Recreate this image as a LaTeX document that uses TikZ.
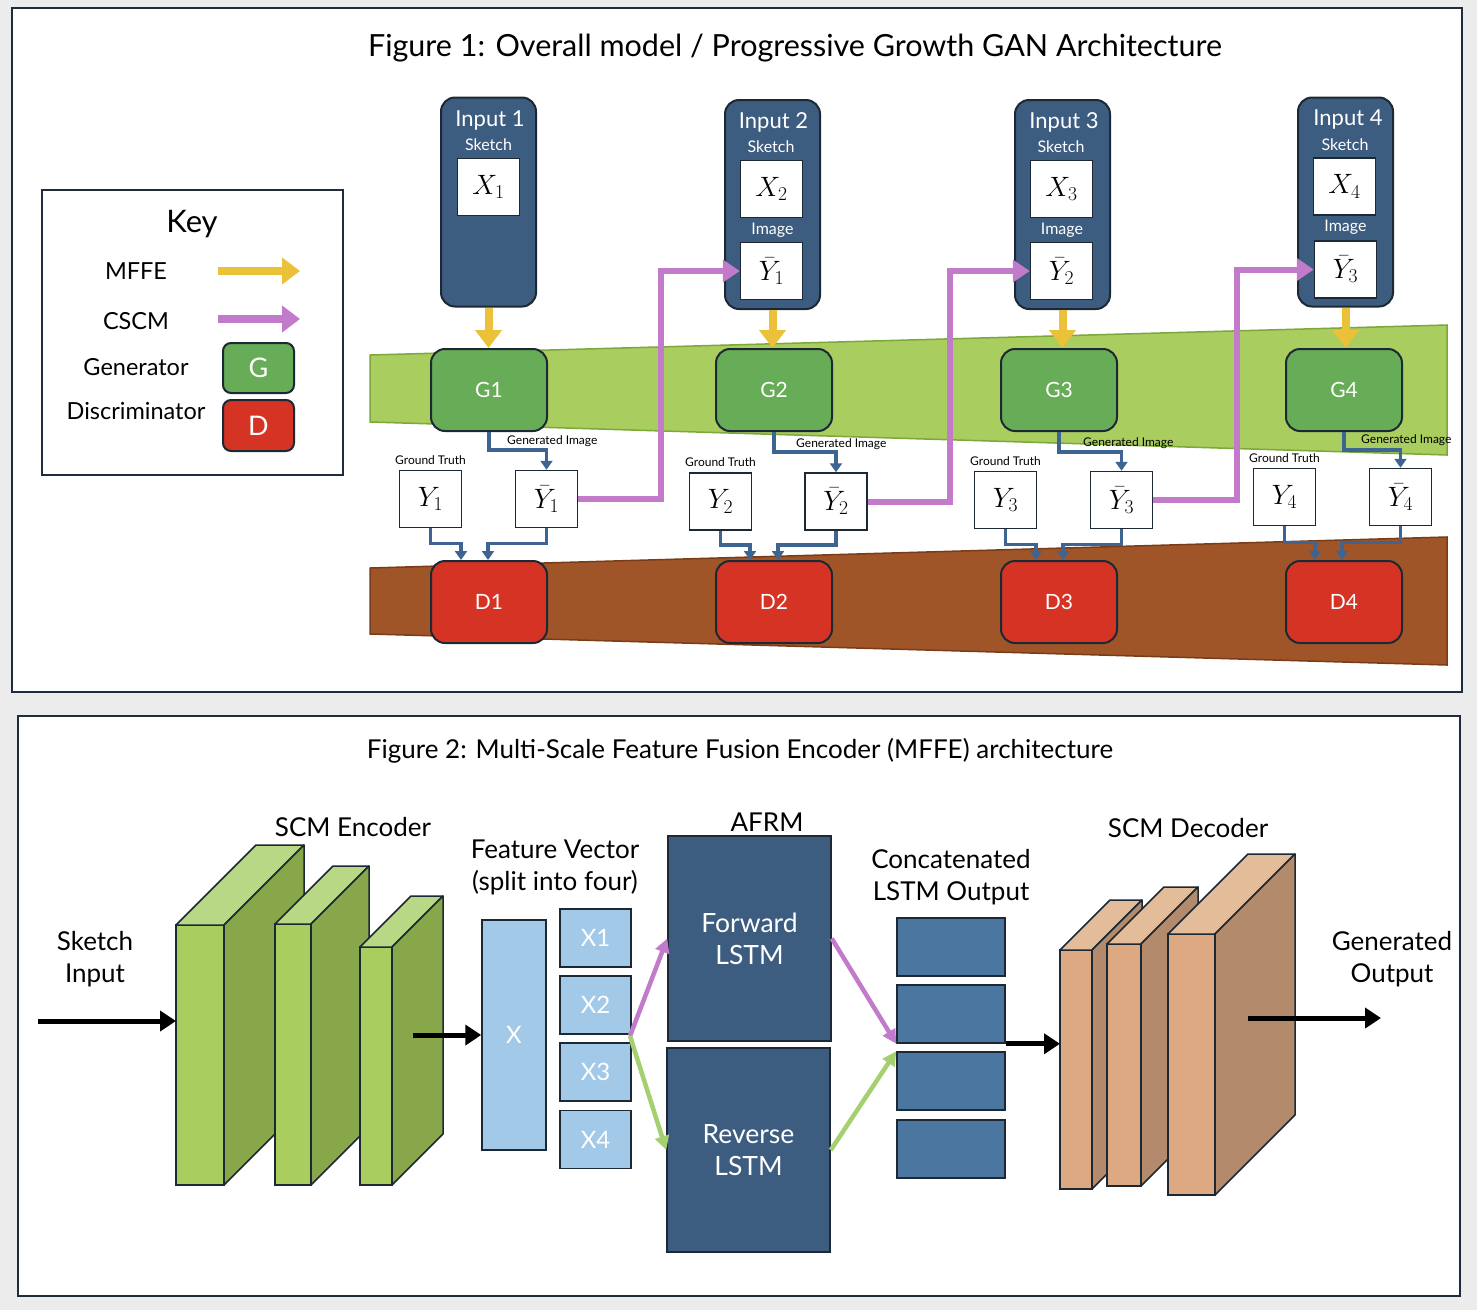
\RequirePackage{fix-cm}
\documentclass[tikz,border=0pt]{standalone}
\usepackage{fontspec}
\setmainfont{Lato}
\usetikzlibrary{arrows.meta,positioning}
\definecolor{pagegray}{RGB}{236,236,236}
\definecolor{panelline}{RGB}{30,44,60}
\definecolor{inputnavy}{RGB}{61,93,128}
\definecolor{boxline}{RGB}{28,40,52}
\definecolor{bandgreen}{RGB}{169,205,94}
\definecolor{bandgreenline}{RGB}{122,168,58}
\definecolor{gengreen}{RGB}{103,172,86}
\definecolor{discred}{RGB}{213,52,37}
\definecolor{bandbrown}{RGB}{160,85,40}
\definecolor{bandbrownline}{RGB}{120,60,25}
\definecolor{mffeyellow}{RGB}{236,193,58}
\definecolor{cscmpurple}{RGB}{194,123,203}
\definecolor{linkblue}{RGB}{62,101,146}
\definecolor{featblue}{RGB}{163,201,232}
\definecolor{catblue}{RGB}{74,118,160}
\definecolor{revgreen}{RGB}{165,208,112}
\definecolor{encfrontc}{RGB}{169,205,94}
\definecolor{enctopc}{RGB}{185,216,134}
\definecolor{encsidec}{RGB}{136,166,74}
\definecolor{decfrontc}{RGB}{220,169,130}
\definecolor{dectopc}{RGB}{227,188,154}
\definecolor{decsidec}{RGB}{179,139,108}
\newcommand{\fs}[2]{\fontsize{#1}{#2}\selectfont}
% front face as a node, top and side faces drawn on it
\newcommand{\slab}[7]{%
  \node[#2front, minimum width=#5pt, minimum height=#6pt] (#1) at (#3,#4) {};
  \filldraw[#2top] (#1.north west) -- ++(#7,-#7) -- ++(#5,0) -- (#1.north east) -- cycle;
  \filldraw[#2side] (#1.north east) -- ++(#7,-#7) -- ++(0,#6) -- (#1.south east) -- cycle;
}

\begin{document}
\begin{tikzpicture}[x=1pt, y=-1pt,
        panel/.style={draw=panelline, line width=2.5pt, fill=white},
        inputbox/.style={rectangle, rounded corners=14pt, draw=boxline, line width=2pt, fill=inputnavy,
          minimum width=95pt, minimum height=209pt},
        slot/.style={rectangle, draw=boxline, line width=1.5pt, fill=white, minimum width=62pt,
          minimum height=57pt, inner sep=0pt, font=\fs{28}{30}},
        inlabel/.style={text=white, inner sep=0pt, font=\fs{22}{26}},
        sublabel/.style={text=white, inner sep=0pt, font=\fs{16}{19}},
        gen/.style={rectangle, rounded corners=14pt, draw=boxline, line width=2pt, fill=gengreen,
          minimum width=116pt, minimum height=82pt, text=white, font=\fs{21}{25}},
        disc/.style={gen, fill=discred},
        smalllabel/.style={inner sep=0pt, font=\fs{12}{14}},
        keylabel/.style={inner sep=0pt, font=\fs{23.5}{27}},
        lbl/.style={align=center, inner sep=0pt, font=\fs{26}{32}},
        mffe/.style={mffeyellow, line width=8pt, -{Triangle[length=18pt,width=26pt]}},
        cscm/.style={cscmpurple, line width=6pt, -{Triangle[length=17pt,width=22pt]}},
        keycscm/.style={cscmpurple, line width=8pt, -{Triangle[length=18pt,width=26pt]}},
        link/.style={linkblue, line width=3.5pt, -{Triangle[length=9pt,width=12pt]}},
        flow/.style={black, line width=5pt, -{Triangle[length=16pt,width=20pt]}},
        fwdarrow/.style={cscmpurple, line width=4.5pt, -{Triangle[length=14pt,width=14pt]}},
        revarrow/.style={revgreen, line width=4.5pt, -{Triangle[length=14pt,width=14pt]}},
        feat/.style={rectangle, draw=boxline, line width=1.5pt, fill=featblue, text=white,
          minimum width=71pt, minimum height=58pt, font=\fs{24}{28}},
        lstm/.style={rectangle, draw=boxline, line width=1.5pt, fill=inputnavy, text=white,
          minimum width=163pt, minimum height=205pt, align=center, font=\fs{26.5}{32}},
        cat/.style={rectangle, draw=boxline, line width=1.5pt, fill=catblue,
          minimum width=108pt, minimum height=58pt},
        encfront/.style={draw=boxline, line width=1.5pt, fill=encfrontc, inner sep=0pt, outer sep=0pt},
        enctop/.style={draw=boxline, line width=1.5pt, fill=enctopc, line join=round},
        encside/.style={draw=boxline, line width=1.5pt, fill=encsidec, line join=round},
        decfront/.style={draw=boxline, line width=1.5pt, fill=decfrontc, inner sep=0pt, outer sep=0pt},
        dectop/.style={draw=boxline, line width=1.5pt, fill=dectopc, line join=round},
        decside/.style={draw=boxline, line width=1.5pt, fill=decsidec, line join=round}]
  \useasboundingbox (0,0) rectangle (1477,1310);
  \fill[pagegray] (0,0) rectangle (1477,1310);
  \draw[panel] (12,8) rectangle (1462,692);
  \draw[panel] (18,716) rectangle (1460,1296);

  % Figure 1
  \node[font=\fs{30.5}{36}] (fig1title) at (795,48) {Figure 1: Overall model / Progressive Growth GAN Architecture};

  % key
  \node[draw=panelline, line width=2pt, fill=white, minimum width=301pt, minimum height=285pt] (key) at (192.5,332.5) {};
  \node[font=\fs{31}{36}] (keytitle) at (192,224) {Key};
  \node[keylabel] (kmffe) at (136,271) {MFFE};
  \node[keylabel] (kcscm) at (136,321) {CSCM};
  \node[keylabel] (kgen) at (136,367) {Generator};
  \node[keylabel] (kdisc) at (136,411) {Discriminator};
  \coordinate (kma) at (218,271);
  \coordinate (kmb) at (300,271);
  \coordinate (kca) at (218,319);
  \coordinate (kcb) at (300,319);
  \draw[mffe] (kma) -- (kmb);
  \draw[keycscm] (kca) -- (kcb);
  \node[gen, minimum width=71pt, minimum height=50pt, rounded corners=8pt, font=\fs{27}{30}] (kg) at (258.5,368) {G};
  \node[disc, minimum width=71pt, minimum height=51pt, rounded corners=8pt, font=\fs{27}{30}] (kd) at (258.5,425.5) {D};

  % bands
  \filldraw[fill=bandgreen, draw=bandgreenline, line width=1.5pt] (370,355) -- (1447,325) -- (1447,455) -- (370,422) -- cycle;
  \filldraw[fill=bandbrown, draw=bandbrownline, line width=1.5pt] (370,568) -- (1447,537) -- (1447,665) -- (370,634) -- cycle;

  % inputs
  \node[inputbox] (in1) at (488.5,202) {};
  \node[inlabel] (in1t) at (490,120) {Input 1};
  \node[sublabel] (in1s) at (488.5,145) {Sketch};
  \node[slot] (x1) at (488.5,187) {$X_1$};

  \node[inputbox] (in2) at (772.5,204.5) {};
  \node[inlabel] (in2t) at (773.5,122) {Input 2};
  \node[sublabel] (in2s) at (771,147) {Sketch};
  \node[slot] (x2) at (771.5,189) {$X_2$};
  \node[sublabel] (in2i) at (772.5,230) {Image};
  \node[slot] (yt1) at (771.5,271) {$\bar{Y}_1$};

  \node[inputbox] (in3) at (1062.5,204.5) {};
  \node[inlabel] (in3t) at (1064,122) {Input 3};
  \node[sublabel] (in3s) at (1061,147) {Sketch};
  \node[slot] (x3) at (1061.5,189) {$X_3$};
  \node[sublabel] (in3i) at (1062,230) {Image};
  \node[slot] (yt2) at (1061.5,271) {$\bar{Y}_2$};

  \node[inputbox] (in4) at (1345.5,202) {};
  \node[inlabel] (in4t) at (1348,119) {Input 4};
  \node[sublabel] (in4s) at (1345,145) {Sketch};
  \node[slot] (x4) at (1344.5,186.5) {$X_4$};
  \node[sublabel] (in4i) at (1345.5,227) {Image};
  \node[slot] (yt3) at (1345.5,269.5) {$\bar{Y}_3$};

  % generators and discriminators
  \node[gen] (g1) at (489,390) {G1};
  \node[gen] (g2) at (774,390) {G2};
  \node[gen] (g3) at (1059,390) {G3};
  \node[gen] (g4) at (1344,390) {G4};
  \node[disc] (d1) at (489,602) {D1};
  \node[disc] (d2) at (774,602) {D2};
  \node[disc] (d3) at (1059,602) {D3};
  \node[disc] (d4) at (1344,602) {D4};

  % ground truth / generated
  \node[slot] (y1) at (430.5,499) {$Y_1$};
  \node[slot] (yb1) at (546.5,499) {$\bar{Y}_1$};
  \node[slot] (y2) at (720.5,501.5) {$Y_2$};
  \node[slot] (yb2) at (836,501.5) {$\bar{Y}_2$};
  \node[slot] (y3) at (1005.5,500) {$Y_3$};
  \node[slot] (yb3) at (1121.5,500) {$\bar{Y}_3$};
  \node[slot] (y4) at (1284.5,497) {$Y_4$};
  \node[slot] (yb4) at (1400.5,497) {$\bar{Y}_4$};
  \node[smalllabel, above=5pt of y1] (gt1) {Ground Truth};
  \node[smalllabel, above=5pt of y2] (gt2) {Ground Truth};
  \node[smalllabel, above=5pt of y3] (gt3) {Ground Truth};
  \node[smalllabel, above=5pt of y4] (gt4) {Ground Truth};
  \node[smalllabel, anchor=west] (gi1) at (507,441) {Generated Image};
  \node[smalllabel, anchor=west] (gi2) at (796,444) {Generated Image};
  \node[smalllabel, anchor=west] (gi3) at (1083,443) {Generated Image};
  \node[smalllabel, anchor=west] (gi4) at (1361,440) {Generated Image};

  % MFFE arrows
  \draw[mffe] (in1.south) -- (in1.south |- g1.north);
  \draw[mffe] (in2.south) -- (in2.south |- g2.north);
  \draw[mffe] (in3.south) -- (in3.south |- g3.north);
  \draw[mffe] (in4.south) -- (in4.south |- g4.north);

  % generated image links
  \draw[link] (g1.south) -- ++(0,18) -| (yb1.north);
  \draw[link] (g2.south) -- ++(0,20) -| (yb2.north);
  \draw[link] (g3.south) -- ++(0,20) -| (yb3.north);
  \draw[link] (g4.south) -- ++(0,18) -| (yb4.north);

  % into discriminators
  \draw[link] (y1.south) -- ++(0,15) -| ([xshift=-28pt]d1.north);
  \draw[link] (yb1.south) -- ++(0,15) -| ([xshift=-1pt]d1.north);
  \draw[link] (y2.south) -- ++(0,14) -| ([xshift=-24pt]d2.north);
  \draw[link] (yb2.south) -- ++(0,14) -| ([xshift=4pt]d2.north);
  \draw[link] (y3.south) -- ++(0,15) -| ([xshift=-23pt]d3.north);
  \draw[link] (yb3.south) -- ++(0,15) -| ([xshift=4pt]d3.north);
  \draw[link] (y4.south) -- ++(0,16) -| ([xshift=-29pt]d4.north);
  \draw[link] (yb4.south) -- ++(0,16) -| ([xshift=-2pt]d4.north);

  % CSCM arrows
  \draw[cscm] (yb1.east) -- ++(83,0) |- (yt1.west);
  \draw[cscm] (yb2.east) -- ++(82,0) |- (yt2.west);
  \draw[cscm] (yb3.east) -- ++(84,0) |- (yt3.west);

  % Figure 2
  \node[font=\fs{26}{30}] (fig2title) at (740,751) {Figure 2: Multi-Scale Feature Fusion Encoder (MFFE) architecture};

  \node[lbl] (sketch) at (95,959) {Sketch\\Input};
  \node[lbl] (enclbl) at (353,827) {SCM Encoder};
  \node[lbl] (featlbl) at (555,867) {Feature Vector\\(split into four)};
  \node[lbl] (afrm) at (767,822) {AFRM};
  \node[lbl] (catlbl) at (951,877) {Concatenated\\LSTM Output};
  \node[lbl] (declbl) at (1188,828) {SCM Decoder};
  \node[lbl] (genout) at (1392,959) {Generated\\Output};

  % encoder
  \slab{enc1}{enc}{200}{1055}{48}{260}{80}
  \slab{enc2}{enc}{293}{1054.5}{36}{261}{58}
  \slab{enc3}{enc}{376}{1066}{32}{238}{51}

  % feature vector
  \node[feat, minimum width=64pt, minimum height=230pt] (xvec) at (514,1035) {X};
  \node[feat] (f1) at (595.5,938) {X1};
  \node[feat] (f2) at (595.5,1005) {X2};
  \node[feat] (f3) at (595.5,1072) {X3};
  \node[feat] (f4) at (595.5,1139.5) {X4};

  % AFRM
  \node[lstm] (fwd) at (749.5,938.5) {Forward\\LSTM};
  \node[lstm, minimum height=204pt] (rev) at (748.5,1150) {Reverse\\LSTM};

  % concatenated output
  \node[cat] (c1) at (951,947) {};
  \node[cat] (c2) at (951,1014) {};
  \node[cat] (c3) at (951,1081) {};
  \node[cat] (c4) at (951,1149) {};

  % decoder
  \slab{dec1}{dec}{1076}{1069.5}{32}{239}{50}
  \slab{dec2}{dec}{1124}{1065}{34}{242}{57}
  \slab{dec3}{dec}{1191.5}{1064.5}{47}{261}{80}

  % connectors
  \coordinate (sketchin) at (38,1021);
  \coordinate (encout) at (413,1035);
  \coordinate (split) at (630,1036);
  \coordinate (decout) at (1248,1018);
  \coordinate (outend) at (1381,1018);
  \draw[flow] (sketchin) -- (sketchin -| enc1.west);
  \draw[flow] (encout) -- (encout -| xvec.west);
  \draw[fwdarrow] (split) -- (fwd.west);
  \draw[revarrow] (split) -- (rev.west);
  \draw[fwdarrow] (fwd.east) -- (c2.south west);
  \draw[revarrow] (rev.east) -- (c3.north west);
  \draw[flow] (c2.south east) -- (c2.south east -| dec1.west);
  \draw[flow] (decout) -- (outend);
\end{tikzpicture}
\end{document}
